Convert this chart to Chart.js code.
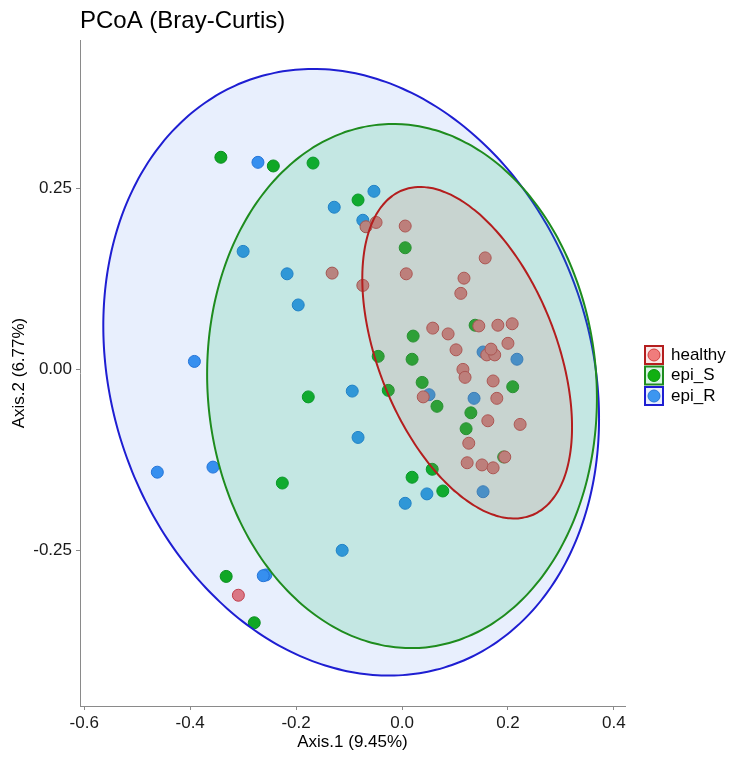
<!DOCTYPE html>
<html>
<head>
<meta charset="utf-8">
<title>PCoA (Bray-Curtis)</title>
<script src="https://cdn.jsdelivr.net/npm/chart.js@4.4.0/dist/chart.umd.min.js"></script>
<style>
  html, body { margin: 0; padding: 0; background: #fff; }
  #wrap { width: 731px; height: 758px; position: relative; }
</style>
</head>
<body>
<div id="wrap"><canvas id="pcoa"></canvas></div>
<script>
// PCoA scores
const groups = ['healthy', 'epi_S', 'epi_R'];

const healthyX = [-0.132, -0.074, -0.068, -0.049, -0.309, 0.006, 0.008, 0.157, 0.117, 0.111, 0.145,
  0.181, 0.208, 0.058, 0.087, 0.200, 0.102, 0.160, 0.175, 0.168, 0.115, 0.119, 0.172, 0.040,
  0.179, 0.162, 0.223, 0.126, 0.123, 0.151, 0.172, 0.194];
const healthyY = [0.133, 0.116, 0.197, 0.203, -0.312, 0.198, 0.132, 0.154, 0.126, 0.105, 0.060,
  0.061, 0.063, 0.057, 0.049, 0.036, 0.027, 0.020, 0.020, 0.028, 0.000, -0.011, -0.016, -0.038,
  -0.040, -0.071, -0.076, -0.102, -0.129, -0.132, -0.136, -0.121];

const episX = [-0.342, -0.243, -0.168, -0.083, 0.006, 0.138, 0.021, -0.045, 0.019, -0.026, -0.177,
  0.038, 0.066, 0.209, 0.130, 0.121, 0.192, 0.057, 0.019, 0.077, -0.226, -0.332, -0.279];
const episY = [0.293, 0.281, 0.285, 0.234, 0.168, 0.061, 0.046, 0.018, 0.014, -0.029, -0.038,
  -0.018, -0.051, -0.024, -0.060, -0.082, -0.121, -0.138, -0.149, -0.168, -0.157, -0.286, -0.350];

const epirX = [-0.272, -0.053, -0.128, -0.074, -0.300, -0.217, -0.196, -0.392, -0.094, -0.083, -0.462,
  -0.357, 0.006, -0.113, -0.257, -0.262, 0.153, 0.217, 0.051, 0.136, 0.153, 0.047];
const epirY = [0.286, 0.246, 0.224, 0.206, 0.163, 0.132, 0.089, 0.011, -0.030, -0.094, -0.142,
  -0.135, -0.185, -0.250, -0.284, -0.285, 0.024, 0.014, -0.035, -0.040, -0.169, -0.172];

const xTicks = [-0.6, -0.4, -0.2, 0.0, 0.2, 0.4];
const yTicks = [-0.25, 0.00, 0.25];

// ellipses (healthy, epi_S, epi_R): centre, half extents, tilt = cos of phase between x and y
const ellipseCx = [0.123, 0.000, -0.096];
const ellipseCy = [0.023, -0.023, -0.004];
const ellipseRx = [0.198, 0.368, 0.468];
const ellipseRy = [0.229, 0.362, 0.419];
const ellipseTilt = [-0.448, -0.046, -0.153];

const xs = [healthyX, episX, epirX];
const ys = [healthyY, episY, epirY];

const pointFill = ['#F07C7C', '#12B012', '#3C96F0'];
const pointEdge = ['#D23C3C', '#0A940A', '#2878D6'];
const lineColor = ['#B41E1E', '#1E8C1E', '#1E1ED2'];
const fillColor = ['rgba(223,99,99,0.15)', 'rgba(20,195,100,0.17)', 'rgba(0,80,230,0.09)'];

const FONT = '"Liberation Sans", Arial, sans-serif';

function ellipseOutline(i) {
  const phase = Math.acos(ellipseTilt[i]);
  const pts = [];
  for (let k = 0; k <= 180; k++) {
    const t = 2 * Math.PI * k / 180;
    pts.push({
      x: ellipseCx[i] + ellipseRx[i] * Math.cos(t),
      y: ellipseCy[i] + ellipseRy[i] * Math.cos(t - phase)
    });
  }
  return pts;
}

const pointSets = groups.map((g, i) => ({
  type: 'scatter',
  label: g,
  data: xs[i].map((x, j) => ({ x: x, y: ys[i][j] })),
  backgroundColor: pointFill[i],
  borderColor: pointEdge[i],
  borderWidth: 1,
  pointRadius: 6,
  pointHoverRadius: 6,
  order: 4 + i
}));

// tension > 0 keeps Chart.js off its fast path, which squashes near-vertical runs
const ellipseSets = groups.map((g, i) => ({
  type: 'line',
  label: g + ' ellipse',
  data: ellipseOutline(i),
  fill: 'shape',
  backgroundColor: fillColor[i],
  borderColor: lineColor[i],
  borderWidth: 2,
  pointRadius: 0,
  tension: 0.3,
  order: 1 + i
}));

// title at the left of the plot panel and the keyed legend on the right
const overlay = {
  id: 'overlay',
  afterDraw(chart) {
    const ctx = chart.ctx;
    const area = chart.chartArea;
    ctx.save();
    ctx.fillStyle = '#000';
    ctx.font = '24px ' + FONT;
    ctx.textBaseline = 'alphabetic';
    ctx.textAlign = 'left';
    ctx.fillText('PCoA (Bray-Curtis)', area.left, 28);

    const bx = area.right + 20;
    groups.forEach((g, i) => {
      const cy = 355 + i * 20.5;
      ctx.fillStyle = '#fff';
      ctx.fillRect(bx, cy - 9, 18, 18);
      ctx.fillStyle = fillColor[i];
      ctx.fillRect(bx, cy - 9, 18, 18);
      ctx.strokeStyle = lineColor[i];
      ctx.lineWidth = 2;
      ctx.strokeRect(bx, cy - 9, 18, 18);
      ctx.beginPath();
      ctx.arc(bx + 9, cy, 6, 0, Math.PI * 2);
      ctx.fillStyle = pointFill[i];
      ctx.fill();
      ctx.lineWidth = 1;
      ctx.strokeStyle = pointEdge[i];
      ctx.stroke();
      ctx.fillStyle = '#000';
      ctx.font = '17px ' + FONT;
      ctx.textBaseline = 'middle';
      ctx.fillText(g, bx + 26, cy);
    });
    ctx.restore();
  }
};

const axisColor = '#8a8a8a';
const tickFont = { family: FONT, size: 17 };
const titleFont = { family: FONT, size: 17 };

new Chart(document.getElementById('pcoa'), {
  type: 'scatter',
  data: { datasets: [...pointSets, ...ellipseSets] },
  options: {
    responsive: true,
    maintainAspectRatio: false,
    animation: false,
    events: [],
    layout: { padding: { left: 0, top: 40, right: 106, bottom: 0 } },
    plugins: {
      legend: { display: false },
      tooltip: { enabled: false },
      title: { display: false }
    },
    scales: {
      x: {
        type: 'linear',
        min: -0.608,
        max: 0.421,
        afterBuildTicks: s => { s.ticks = xTicks.map(v => ({ value: v })); },
        afterFit: s => { s.height = 52; },
        ticks: { callback: v => v.toFixed(1), font: tickFont, color: '#1a1a1a', padding: 3, maxRotation: 0, autoSkip: false },
        grid: { display: true, drawOnChartArea: false, drawTicks: true, tickLength: 4, color: axisColor },
        border: { display: true, color: axisColor, width: 1 },
        title: { display: true, text: 'Axis.1 (9.45%)', font: titleFont, color: '#000', padding: { top: 0, bottom: 5 } }
      },
      y: {
        type: 'linear',
        min: -0.465,
        max: 0.455,
        afterBuildTicks: s => { s.ticks = yTicks.map(v => ({ value: v })); },
        afterFit: s => { s.width = 80; },
        ticks: { callback: v => v.toFixed(2), font: tickFont, color: '#1a1a1a', padding: 4, autoSkip: false },
        grid: { display: true, drawOnChartArea: false, drawTicks: true, tickLength: 4, color: axisColor },
        border: { display: true, color: axisColor, width: 1 },
        title: { display: true, text: 'Axis.2 (6.77%)', font: titleFont, color: '#000', padding: { top: 9, bottom: 0 } }
      }
    }
  },
  plugins: [overlay]
});
</script>
</body>
</html>
